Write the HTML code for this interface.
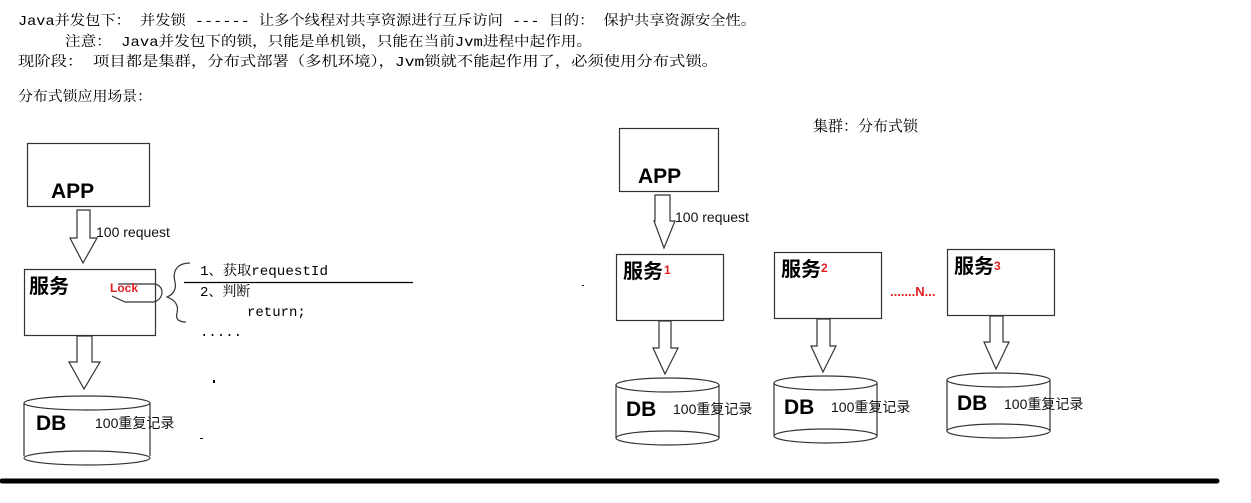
<!DOCTYPE html>
<html><head><meta charset="utf-8"><style>
html,body{margin:0;padding:0;background:#fff;}
svg{display:block;}
.t{font-family:"Liberation Mono","Noto Serif CJK SC",monospace;font-size:14px;fill:#000;}
.s{font-family:"Liberation Sans","Noto Sans CJK SC",sans-serif;}
.b{font-family:"Liberation Sans","Noto Sans CJK SC",sans-serif;font-weight:bold;fill:#000;}
</style></head><body>
<svg width="1251" height="503" viewBox="0 0 1251 503" xmlns="http://www.w3.org/2000/svg">
<g class="t">
<text x="18" y="25" textLength="738" lengthAdjust="spacingAndGlyphs">Java并发包下： 并发锁 ------ 让多个线程对共享资源进行互斥访问 --- 目的： 保护共享资源安全性。</text>
<text x="65" y="46" textLength="527" lengthAdjust="spacingAndGlyphs">注意： Java并发包下的锁，只能是单机锁，只能在当前Jvm进程中起作用。</text>
<text x="18" y="66" textLength="700" lengthAdjust="spacingAndGlyphs">现阶段： 项目都是集群，分布式部署（多机环境），Jvm锁就不能起作用了，必须使用分布式锁。</text>
<text x="18" y="101" textLength="134" lengthAdjust="spacingAndGlyphs">分布式锁应用场景：</text>
<text x="200" y="275" textLength="128" lengthAdjust="spacingAndGlyphs">1、获取requestId</text>
<text x="200" y="296">2、判断</text>
<text x="247" y="316">return;</text>
<text x="200" y="336">.....</text>
<text x="813" y="131" font-size="15">集群：分布式锁</text>
</g>
<g fill="none" stroke="#333" stroke-width="1.2">
<rect x="27.5" y="143.5" width="122" height="63"/>
<path d="M77 210 H90 V238 L97 238 L83 263 L70 238 L77 238 Z"/>
<rect x="24.5" y="269.5" width="131" height="66"/>
<path d="M77 336 H92 V362 L100 362 L84 389 L69 362 L77 362 Z"/>
<path d="M24 403 V456 M150 403 V456"/>
<ellipse cx="87" cy="403" rx="63" ry="7"/>
<ellipse cx="87" cy="458" rx="63" ry="7"/>
<path d="M190 263 C178 263 172 270 175 282 C177 290 172 295 167 297 C175 300 179 305 177 313 C175 320 180 322 186 322"/>
<path d="M118 284 H153 C165 284 165 300 153 302 H125 L112 296"/>
<path d="M184 282.5 H413" stroke="#000"/>
<rect x="619.5" y="128.5" width="99" height="63"/>
<path d="M655 195 H670 V221 L675 221 L664 248 L654 221 L655 221 Z"/>
<rect x="616.5" y="254.5" width="107" height="66"/>
<rect x="774.5" y="252.5" width="107" height="66"/>
<rect x="947.5" y="249.5" width="107" height="66"/>
<path d="M659 321 H671 V348 L678 348 L665 374 L653 348 L659 348 Z"/>
<path d="M817 319 H830 V346 L836 346 L823 372 L811 346 L817 346 Z"/>
<path d="M990 316 H1003 V342 L1009 342 L996 369 L984 342 L990 342 Z"/>
<path d="M616 385 V438 M719 385 V438"/>
<ellipse cx="667.5" cy="385" rx="51.5" ry="7"/><ellipse cx="667.5" cy="438" rx="51.5" ry="7"/>
<path d="M774 383 V436 M877 383 V436"/>
<ellipse cx="825.5" cy="383" rx="51.5" ry="7"/><ellipse cx="825.5" cy="436" rx="51.5" ry="7"/>
<path d="M947 380 V431 M1050 380 V431"/>
<ellipse cx="998.5" cy="380" rx="51.5" ry="7"/><ellipse cx="998.5" cy="431" rx="51.5" ry="7"/>
</g>
<rect x="213" y="380" width="2" height="3" fill="#000"/>
<rect x="200" y="438" width="3" height="1" fill="#000"/>
<rect x="582" y="285" width="2" height="1" fill="#000"/>
<line x1="2" y1="481" x2="1217" y2="481" stroke="#000" stroke-width="5" stroke-linecap="round"/>
<g class="b">
<text x="51" y="198" font-size="21">APP</text>
<text x="29" y="293" font-size="20">服务</text>
<text x="36" y="430" font-size="21">DB</text>
<text x="638" y="183" font-size="21">APP</text>
<text x="623" y="278" font-size="20">服务</text>
<text x="781" y="276" font-size="20">服务</text>
<text x="954" y="273" font-size="20">服务</text>
<text x="626" y="416" font-size="21">DB</text>
<text x="784" y="414" font-size="21">DB</text>
<text x="957" y="410" font-size="21">DB</text>
<text x="110" y="292" font-size="12" style="fill:#e02020">Lock</text>
<text x="664" y="274" font-size="12" style="fill:#e02020">1</text>
<text x="821" y="272" font-size="12" style="fill:#e02020">2</text>
<text x="994" y="270" font-size="12" style="fill:#e02020">3</text>
<text x="890" y="296" font-size="13" style="fill:#e02020">.......N...</text>
</g>
<g class="s" font-size="14" fill="#111">
<text x="96" y="237">100 request</text>
<text x="675" y="222">100 request</text>
<text x="95" y="428">100重复记录</text>
<text x="673" y="414">100重复记录</text>
<text x="831" y="412">100重复记录</text>
<text x="1004" y="409">100重复记录</text>
</g>
</svg>
</body></html>
